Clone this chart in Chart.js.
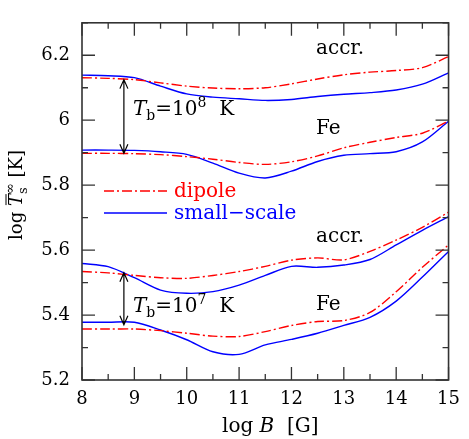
<!DOCTYPE html>
<html>
<head>
<meta charset="utf-8">
<script src="https://cdn.jsdelivr.net/npm/chart.js@4.4.1/dist/chart.umd.min.js"></script>
<style>
  html, body { margin: 0; padding: 0; background: #fff; }
  canvas { display: block; }
</style>
</head>
<body>
<canvas id="chart" width="469" height="439"></canvas>
<script>
// log B [G] grid
const logB = [8, 8.5, 9, 9.5, 10, 10.5, 11, 11.5, 12, 12.5, 13, 13.5, 14, 14.5, 15];

// T_b = 1e8 K
const accrDipole8 = [6.131, 6.129, 6.125, 6.115, 6.105, 6.099, 6.097, 6.100, 6.112, 6.127, 6.140, 6.148, 6.153, 6.162, 6.196];
const accrSmall8  = [6.139, 6.137, 6.131, 6.105, 6.081, 6.071, 6.066, 6.061, 6.064, 6.073, 6.080, 6.085, 6.093, 6.111, 6.146];
const feDipole8   = [5.898, 5.898, 5.897, 5.894, 5.888, 5.880, 5.870, 5.864, 5.872, 5.890, 5.915, 5.932, 5.947, 5.960, 5.997];
const feSmall8    = [5.908, 5.908, 5.907, 5.903, 5.895, 5.868, 5.837, 5.822, 5.843, 5.873, 5.892, 5.897, 5.903, 5.933, 5.997];

// T_b = 1e7 K
const accrDipole7 = [5.534, 5.530, 5.522, 5.515, 5.513, 5.522, 5.534, 5.550, 5.569, 5.576, 5.570, 5.596, 5.631, 5.670, 5.717];
const accrSmall7  = [5.559, 5.549, 5.515, 5.477, 5.467, 5.472, 5.492, 5.522, 5.550, 5.547, 5.554, 5.571, 5.616, 5.661, 5.703];
const feDipole7   = [5.357, 5.357, 5.357, 5.352, 5.344, 5.335, 5.334, 5.349, 5.368, 5.380, 5.383, 5.408, 5.472, 5.547, 5.616];
const feSmall7    = [5.378, 5.378, 5.378, 5.354, 5.324, 5.287, 5.279, 5.308, 5.325, 5.344, 5.368, 5.393, 5.443, 5.517, 5.596];

// annotations (data coords)
const arrowX = 8.8;
const arrow8 = [6.125, 5.898];
const arrow7 = [5.530, 5.370];

const RED = '#ff0000';
const BLUE = '#0000ff';
const DASHDOT = [10, 3, 2, 3];
const SERIF = '"DejaVu Serif"';

function series(values, color, dash) {
  return {
    data: logB.map((b, i) => ({ x: b, y: values[i] })),
    borderColor: color,
    borderWidth: 1.4,
    borderDash: dash || [],
    pointRadius: 0,
    tension: 0.3,
    fill: false
  };
}

// draws a run of text pieces: [text, font, dy, noAdvance]
function richText(ctx, parts, x, y) {
  let cx = x;
  parts.forEach(([t, font, dy, stay]) => {
    ctx.font = font;
    ctx.fillText(t, cx, y + (dy || 0));
    if (!stay) cx += ctx.measureText(t).width;
  });
  return cx;
}
function richWidth(ctx, parts) {
  let w = 0;
  parts.forEach(([t, font, dy, stay]) => { ctx.font = font; if (!stay) w += ctx.measureText(t).width; });
  return w;
}

function arrow(ctx, x, y1, y2) {
  ctx.beginPath();
  ctx.moveTo(x, y1); ctx.lineTo(x, y2);
  ctx.moveTo(x - 4, y1 + 9); ctx.lineTo(x, y1); ctx.lineTo(x + 4, y1 + 9);
  ctx.moveTo(x - 4, y2 - 9); ctx.lineTo(x, y2); ctx.lineTo(x + 4, y2 - 9);
  ctx.stroke();
}

const decorations = {
  id: 'decorations',
  afterDatasetsDraw(chart) {
    const { ctx, chartArea: a, scales: { x, y } } = chart;
    ctx.save();

    // frame + inside ticks on all sides
    ctx.strokeStyle = '#333';
    ctx.lineWidth = 1.6;
    ctx.strokeRect(a.left, a.top, a.right - a.left, a.bottom - a.top);
    ctx.lineWidth = 1.3;
    ctx.beginPath();
    for (let v = 8; v <= 15.0001; v += 0.5) {
      const px = x.getPixelForValue(v);
      const len = Math.abs(v - Math.round(v)) < 1e-6 ? 13 : 6;
      ctx.moveTo(px, a.bottom); ctx.lineTo(px, a.bottom - len);
      ctx.moveTo(px, a.top); ctx.lineTo(px, a.top + len);
    }
    for (let k = 52; k <= 63; k++) {
      const py = y.getPixelForValue(k / 10);
      const len = k % 2 === 0 ? 13 : 6;
      ctx.moveTo(a.left, py); ctx.lineTo(a.left + len, py);
      ctx.moveTo(a.right, py); ctx.lineTo(a.right - len, py);
    }
    ctx.stroke();

    // arrows
    ctx.strokeStyle = '#000';
    ctx.lineWidth = 1.2;
    const ax = x.getPixelForValue(arrowX);
    arrow(ctx, ax, y.getPixelForValue(arrow8[0]), y.getPixelForValue(arrow8[1]));
    arrow(ctx, ax, y.getPixelForValue(arrow7[0]), y.getPixelForValue(arrow7[1]));

    // text labels
    ctx.fillStyle = '#000';
    ctx.textBaseline = 'alphabetic';
    ctx.textAlign = 'left';
    const f = '20px ' + SERIF;
    const fi = 'italic 20px ' + SERIF;
    const fs = '14px ' + SERIF;
    ctx.font = f;
    ctx.fillText('accr.', 316, 54);
    ctx.fillText('Fe', 316, 134);
    ctx.fillText('accr.', 316, 242);
    ctx.fillText('Fe', 316, 310);
    richText(ctx, [['T', fi], ['b', fs, 5], ['=10', f], ['8', fs, -8], ['  K', f]], 133, 115);
    richText(ctx, [['T', fi], ['b', fs, 5], ['=10', f], ['7', fs, -8], ['  K', f]], 133, 312);

    // legend
    ctx.lineWidth = 1.4;
    ctx.strokeStyle = RED;
    ctx.setLineDash(DASHDOT);
    ctx.beginPath(); ctx.moveTo(104, 191); ctx.lineTo(167, 191); ctx.stroke();
    ctx.setLineDash([]);
    ctx.strokeStyle = BLUE;
    ctx.beginPath(); ctx.moveTo(104, 213); ctx.lineTo(167, 213); ctx.stroke();
    ctx.font = '20px ' + SERIF;
    ctx.fillStyle = RED;
    ctx.fillText('dipole', 174, 197);
    ctx.fillStyle = BLUE;
    ctx.fillText('small\u2212scale', 174, 219);

    // axis titles
    ctx.fillStyle = '#000';
    const xt = [['log ', f], ['B', fi], ['  [G]', f]];
    richText(ctx, xt, 222, 432);

    const g = '18px ' + SERIF;
    const gi = 'italic 18px ' + SERIF;
    const gs = '13px ' + SERIF;
    const yt = [['log ', g], ['T', gi], ['s', gs, 5, true], ['\u221E', gs, -8], [' [K]', g]];
    ctx.translate(22, 195);
    ctx.rotate(-Math.PI / 2);
    const w = richWidth(ctx, yt);
    const tStart = -w / 2 + richWidth(ctx, [['log ', g]]);
    richText(ctx, yt, -w / 2, 0);
    // overbar on T
    ctx.strokeStyle = '#000';
    ctx.lineWidth = 1;
    ctx.beginPath(); ctx.moveTo(tStart + 1, -16); ctx.lineTo(tStart + 12, -16); ctx.stroke();

    ctx.restore();
  }
};

new Chart(document.getElementById('chart'), {
  type: 'line',
  data: {
    datasets: [
      series(accrDipole8, RED, DASHDOT),
      series(accrSmall8, BLUE),
      series(feDipole8, RED, DASHDOT),
      series(feSmall8, BLUE),
      series(accrDipole7, RED, DASHDOT),
      series(accrSmall7, BLUE),
      series(feDipole7, RED, DASHDOT),
      series(feSmall7, BLUE)
    ]
  },
  options: {
    responsive: false,
    animation: false,
    devicePixelRatio: 1,
    layout: { padding: { top: 9, right: 16, left: 0, bottom: 0 } },
    plugins: { legend: { display: false }, tooltip: { enabled: false } },
    scales: {
      x: {
        type: 'linear',
        min: 8, max: 15,
        grid: { display: false, drawTicks: false },
        border: { display: false },
        ticks: { stepSize: 1, padding: 9, color: '#000', font: { family: SERIF, size: 18 } },
        afterFit(s) { s.height = 59; }
      },
      y: {
        type: 'linear',
        min: 5.2, max: 6.3,
        grid: { display: false, drawTicks: false },
        border: { display: false },
        ticks: {
          stepSize: 0.2, includeBounds: false, padding: 12, color: '#000',
          font: { family: SERIF, size: 18 },
          callback: v => String(+v.toFixed(1))
        },
        afterFit(s) { s.width = 82; }
      }
    }
  },
  plugins: [decorations]
});
</script>
</body>
</html>
